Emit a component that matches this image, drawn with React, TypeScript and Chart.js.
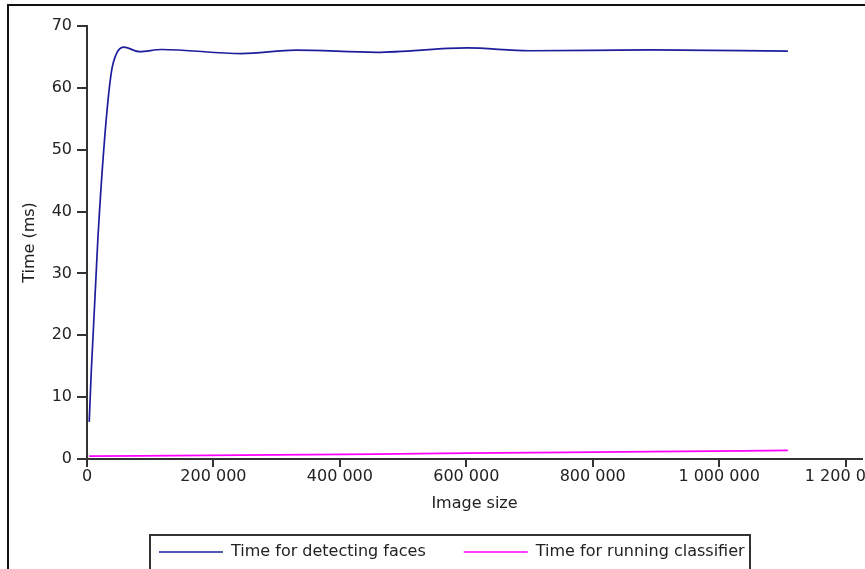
import React, { useEffect, useRef } from 'react';
import { Chart, registerables } from 'chart.js';

Chart.register(...registerables);

// Image sizes (pixels) at which times were sampled
const detectSizes = [3500, 6650, 17100, 27700, 38300, 46000, 57800, 83000, 118000, 244500, 330000, 458000, 600700, 700000, 890000, 1108700];
// Time for detecting faces (ms)
const detectTimes = [6.0, 13.9, 35.4, 51.6, 62.4, 65.4, 66.6, 65.85, 66.2, 65.55, 66.1, 65.75, 66.45, 66.0, 66.15, 65.95];
// Time for running classifier (ms)
const classifierSizes = [3500, 244500, 458000, 600700, 890000, 1108700];
const classifierTimes = [0.45, 0.62, 0.8, 0.95, 1.18, 1.39];

const xTickValues = [0, 200000, 400000, 600000, 800000, 1000000, 1200000];
const yTickValues = [0, 10, 20, 30, 40, 50, 60, 70];

const seriesLabels = ['Time for detecting faces', 'Time for running classifier'];
const seriesColors = ['#1e1e9c', '#ff00ff'];

const FONT = "'DejaVu Sans', 'Liberation Sans', sans-serif";

const fmt = (v: number) => String(Math.round(v)).replace(/\B(?=(\d{3})+(?!\d))/g, ' ');

const boxLegend = {
  id: 'boxLegend',
  afterDraw(chart: any) {
    const ctx = chart.ctx as CanvasRenderingContext2D;
    const datasets = chart.data.datasets;
    ctx.save();
    ctx.font = `16px ${FONT}`;
    const boxW = 600, padL = 9, sample = 64, gap = 8, itemGap = 38;
    const widths = datasets.map((d: any) => ctx.measureText(d.label).width);
    const left = Math.round(chart.width / 2 - boxW / 2);
    const top = 535;
    ctx.strokeStyle = '#333';
    ctx.lineWidth = 2;
    ctx.strokeRect(left, top, boxW, 60);
    const cy = 552;
    let x = left + padL;
    datasets.forEach((d: any, i: number) => {
      if (i > 0) x += itemGap;
      ctx.strokeStyle = d.borderColor;
      ctx.lineWidth = 1.5;
      ctx.beginPath();
      ctx.moveTo(x, cy);
      ctx.lineTo(x + sample, cy);
      ctx.stroke();
      x += sample + gap;
      ctx.fillStyle = '#222';
      ctx.textBaseline = 'middle';
      ctx.textAlign = 'left';
      ctx.fillText(d.label, x, cy);
      x += widths[i];
    });
    ctx.restore();
  },
};

export default function App() {
  const ref = useRef<HTMLCanvasElement | null>(null);

  useEffect(() => {
    if (!ref.current) return;
    Chart.defaults.font.family = FONT;
    Chart.defaults.font.size = 16;
    Chart.defaults.color = '#222';
    const chart = new Chart(ref.current, {
      type: 'line',
      data: {
        datasets: [
          {
            label: seriesLabels[0],
            data: detectSizes.map((x, i) => ({ x, y: detectTimes[i] })),
            borderColor: seriesColors[0],
            backgroundColor: seriesColors[0],
            borderWidth: 1.7,
            pointRadius: 0,
            cubicInterpolationMode: 'monotone',
          },
          {
            label: seriesLabels[1],
            data: classifierSizes.map((x, i) => ({ x, y: classifierTimes[i] })),
            borderColor: seriesColors[1],
            backgroundColor: seriesColors[1],
            borderWidth: 1.7,
            pointRadius: 0,
            cubicInterpolationMode: 'monotone',
          },
        ],
      },
      options: {
        animation: false,
        responsive: false,
        maintainAspectRatio: false,
        layout: { padding: { left: 0, top: 26, right: 38, bottom: 107 } },
        plugins: { legend: { display: false }, tooltip: { enabled: false } },
        scales: {
          x: {
            type: 'linear',
            min: 0,
            max: 1226000,
            afterBuildTicks: (s: any) => {
              s.ticks = xTickValues.map((v) => ({ value: v }));
            },
            afterFit: (s: any) => {
              s.height = 54;
            },
            border: { display: true, color: '#333', width: 2 },
            grid: { drawOnChartArea: false, drawTicks: true, tickLength: 8, color: '#333', lineWidth: 2 },
            ticks: {
              padding: 0,
              maxRotation: 0,
              autoSkip: false,
              color: '#222',
              font: { size: 16 },
              callback: (v: any) => fmt(Number(v)),
            },
            title: { display: true, text: 'Image size', color: '#222', font: { size: 16 }, padding: { top: 0, bottom: 0 } },
          },
          y: {
            type: 'linear',
            min: 0,
            max: 70,
            afterBuildTicks: (s: any) => {
              s.ticks = yTickValues.map((v) => ({ value: v }));
            },
            afterFit: (s: any) => {
              s.width = 87;
            },
            border: { display: true, color: '#333', width: 2 },
            grid: { drawOnChartArea: false, drawTicks: true, tickLength: 10, color: '#333', lineWidth: 2 },
            ticks: { padding: 5, color: '#222', font: { size: 16 }, callback: (v: any) => String(v) },
            title: { display: true, text: 'Time (ms)', color: '#222', font: { size: 16 }, padding: { top: 20, bottom: 0 } },
          },
        },
      },
      plugins: [boxLegend],
    } as any);
    return () => chart.destroy();
  }, []);

  return (
    <div style={{ position: 'fixed', left: 0, top: 0, width: 865, height: 569, overflow: 'hidden', background: '#fff' }}>
      <div
        style={{
          position: 'absolute',
          left: 7,
          top: 4,
          width: 900,
          height: 620,
          border: '2px solid #111',
          boxSizing: 'border-box',
        }}
      />
      <canvas ref={ref} width={900} height={620} style={{ position: 'absolute', left: 0, top: 0, width: 900, height: 620 }} />
    </div>
  );
}
